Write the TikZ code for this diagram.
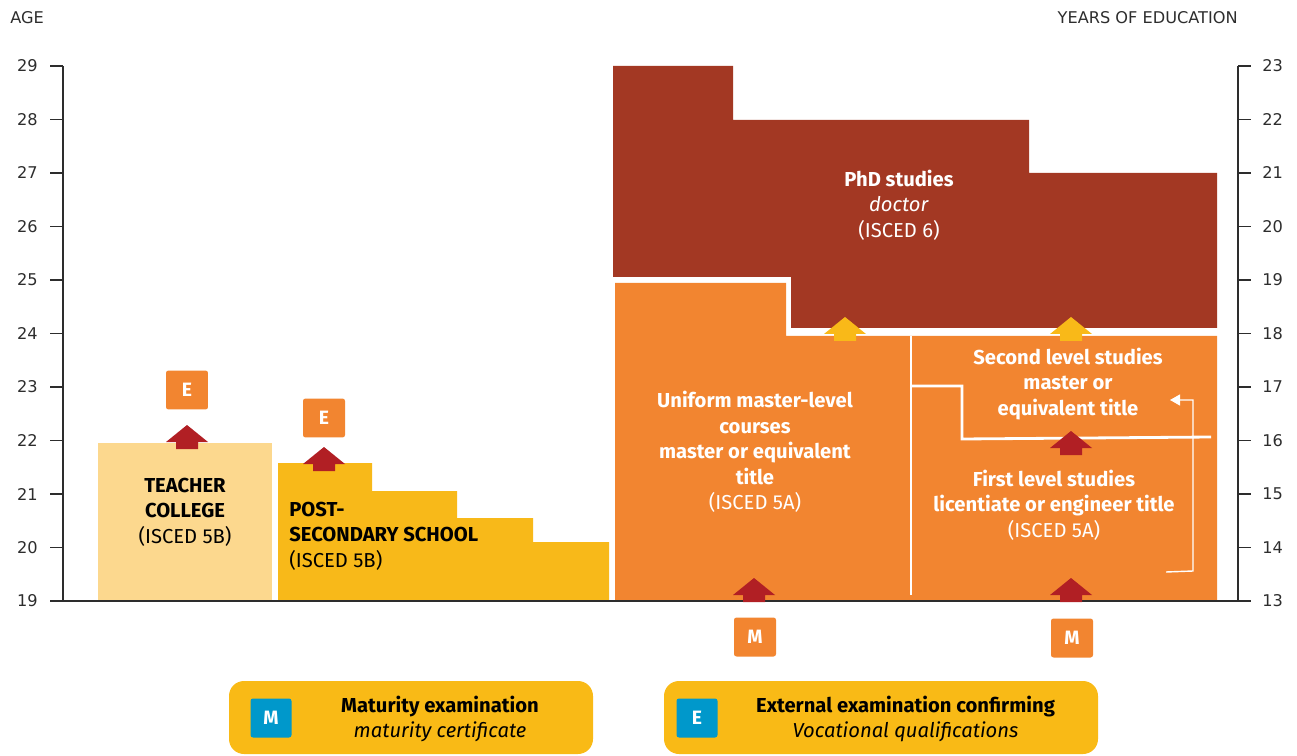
\documentclass[tikz,border=0pt]{standalone}
\usepackage{fontspec}
\setmainfont{Fira Sans}
\newfontfamily\axisfont{DejaVu Sans}
\usepackage{tikz}
\usetikzlibrary{positioning, arrows.meta}
\tikzstyle{chart} = [x = 0.02cm, y = -0.02cm]
\definecolor{axisGray}{RGB}{45,45,45}
\definecolor{teacherColor}{HTML}{FCD88E}
\definecolor{postColor}{HTML}{F8B919}
\definecolor{phdColor}{HTML}{A33823}
\definecolor{masterColor}{HTML}{F28530}
\definecolor{arrowRed}{HTML}{B11F24}
\definecolor{arrowYellow}{HTML}{F9B918}
\definecolor{examOrange}{HTML}{F28530}
\definecolor{examBlue}{HTML}{0098CB}
\definecolor{legendYellow}{HTML}{F9BA16}
\tikzstyle{axisLine} = [color=axisGray, line width=0.8pt]
\tikzstyle{axisText} = [font=\axisfont\fontsize{9.2}{10}\selectfont, color=axisGray, inner sep=0pt]
\tikzstyle{blockText} = [font=\fontsize{11.5}{14.5}\selectfont, align=center, inner sep=0pt]
\tikzstyle{whiteLine} = [color=white, line width=1.6pt]
\tikzstyle{examStyle} = [rounded corners = .05cm, minimum width = .84cm, minimum height = .78cm, text=white, font=\bfseries\fontsize{11}{12}\selectfont, inner sep=0pt]
\tikzstyle{legendStyle} = [fill=legendYellow, rounded corners = .3cm]
\tikzstyle{legendText} = [font=\fontsize{11.5}{14.5}\selectfont, align=center, inner sep=0pt]
\newcommand{\blockArrow}[3]{\fill [#3] (#1, #2) -- ++(21,17) -- ++(-10,0) -- ++(0,7) -- ++(-22,0) -- ++(0,-7) -- ++(-10,0) -- cycle;}
\newcommand{\examBox}[5]{\node [examStyle, fill=#5] (#1) at (#2, #3) {#4};}
\newcommand{\legendBox}[6]{
  \pgfmathsetmacro{\textCenter}{(#4 + #3) / 2 + 8}
  \filldraw [legendStyle, draw=none] (#2, 681) rectangle (#3, 754);
  \node [examStyle, fill=examBlue, minimum width=.82cm] (#1Key) at (#4, 718) {#5};
  \node [legendText] (#1Text) at (\textCenter, 719) {#6};
}
\newcommand{\ageAxis}{
  \foreach \age in {19,...,29} {
    \pgfmathsetmacro{\var}{601 - 53.5 * (\age - 19)}
    \draw [axisLine] (50, \var) -- (63, \var);
    \node [axisText, anchor=east] (age\age) at (38, \var) {\age};
  }
}
\newcommand{\yearsAxis}{
  \foreach \year in {13,...,23} {
    \pgfmathsetmacro{\var}{601 - 53.5 * (\year - 13)}
    \draw [axisLine] (1238, \var) -- (1251, \var);
    \node [axisText, anchor=west] (year\year) at (1262, \var) {\year};
  }
}

\begin{document}
\begin{tikzpicture}[chart]
\useasboundingbox (0,0) rectangle (1297,756);
\fill [teacherColor] (98,443) rectangle (272,601);
\fill [postColor] (278,601) -- (278,463) -- (372,463) -- (372,491) -- (457,491) -- (457,518) -- (533,518) -- (533,542) -- (609,542) -- (609,601) -- cycle;
\fill [phdColor] (613,66) -- (733,66) -- (733,120) -- (1029,120) -- (1029,173) -- (1217,173) -- (1217,328) -- (791,328) -- (791,277) -- (613,277) -- cycle;
\fill [masterColor] (615,283) -- (786,283) -- (786,336) -- (1217,336) -- (1217,601) -- (615,601) -- cycle;
\draw [whiteLine] (911,336) -- (911,595);
\draw [whiteLine] (911,386) -- (962,386) -- (962,439) -- (1211,437);
\coordinate (loopStart) at (1166,572);
\coordinate (loopEnd) at (1170,400);
\draw [color=white, line width=0.8pt, -{Triangle[length=.2cm, width=.22cm]}] (loopStart) -- (1193,571) -- (1193,400) -- (loopEnd);
\draw [axisLine] (63,66) -- (63,601) -- (1238,601) -- (1238,66);
\ageAxis
\yearsAxis
\node [axisText, anchor=west] (ageTitle) at (10,18) {AGE};
\node [axisText, anchor=east] (yearsTitle) at (1238,18) {YEARS OF EDUCATION};
\blockArrow{187}{425}{arrowRed}\blockArrow{324}{447}{arrowRed}\blockArrow{845}{317}{arrowYellow}\blockArrow{1071}{317}{arrowYellow}\blockArrow{1071}{431}{arrowRed}\blockArrow{754}{578}{arrowRed}\blockArrow{1071}{578}{arrowRed}
\examBox{teacherExam}{187}{390}{E}{examOrange}\examBox{postExam}{324}{418}{E}{examOrange}\examBox{masterExam}{755}{637}{M}{examOrange}\examBox{firstExam}{1072}{638}{M}{examOrange}
\node [blockText] (teacher) at (185,512) {\textbf{TEACHER}\\\textbf{COLLEGE}\\(ISCED 5B)};
\node [blockText, align=left, anchor=west] (post) at (289,536) {\textbf{POST-}\\\textbf{SECONDARY SCHOOL}\\(ISCED 5B)};
\node [blockText, text=white] (phd) at (899,205) {\textbf{PhD studies}\\\textit{doctor}\\(ISCED 6)};
\node [blockText, text=white] (uniform) at (755,452) {\textbf{Uniform master-level}\\\textbf{courses}\\\textbf{master or equivalent}\\\textbf{title}\\(ISCED 5A)};
\node [blockText, text=white] (second) at (1068,384) {\textbf{Second level studies}\\\textbf{master or}\\\textbf{equivalent title}};
\node [blockText, text=white] (first) at (1054,505) {\textbf{First level studies}\\\textbf{licentiate or engineer title}\\(ISCED 5A)};
\legendBox{maturity}{229}{593}{271}{M}{\textbf{Maturity examination}\\\textit{maturity certificate}}
\legendBox{external}{664}{1098}{697}{E}{\textbf{External examination confirming}\\\textit{Vocational qualifications}}
\end{tikzpicture}
\end{document}
